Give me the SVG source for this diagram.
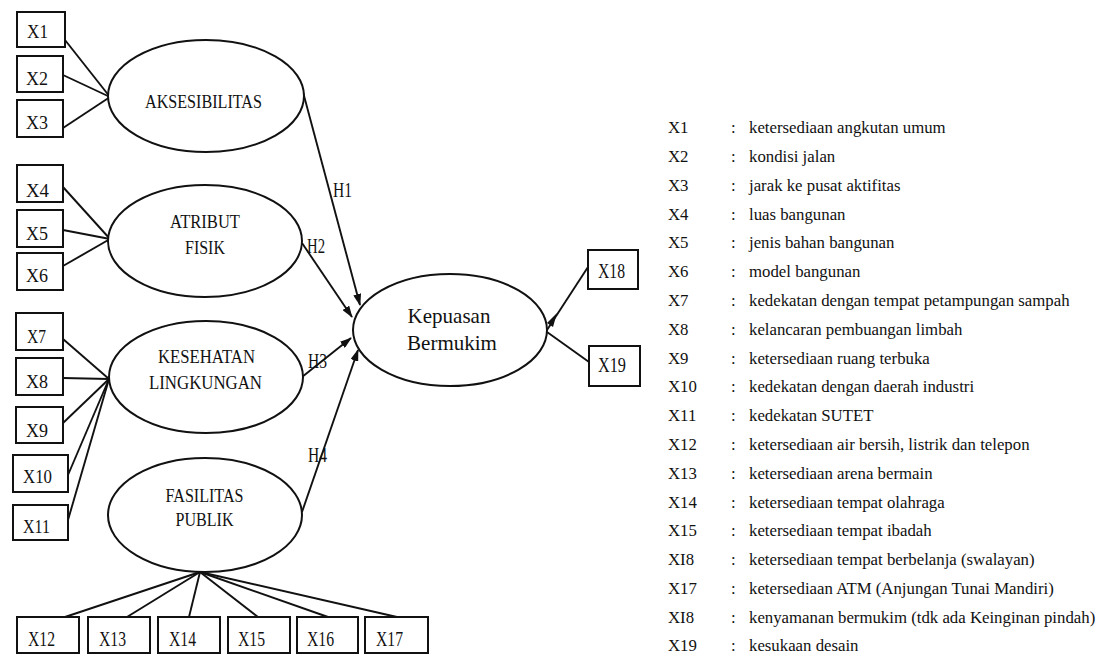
<svg xmlns="http://www.w3.org/2000/svg" width="1101" height="655" viewBox="0 0 1101 655">
<defs>
<style>
.bg{fill:#ffffff}
.box{fill:#ffffff;stroke:#111;stroke-width:2}
.ell{fill:#ffffff;stroke:#111;stroke-width:2}
.ln{stroke:#111;stroke-width:1.9;fill:none}
.t{font-family:'Liberation Serif','DejaVu Serif',serif;fill:#111}
.bx{font-size:19px}
.bb{font-size:22px}
.el{font-size:19.5px;text-anchor:middle}
.h{font-size:21px}
.kp{font-size:21px;text-anchor:middle}
.lg{font-family:'Liberation Serif','DejaVu Serif',serif;font-size:16.8px;fill:#111}
</style>
<marker id="arr" markerWidth="12" markerHeight="8" refX="11" refY="4" orient="auto" markerUnits="userSpaceOnUse">
<path d="M0,0 L12,4 L0,8 Z" fill="#111"/>
</marker>
</defs>
<rect class="bg" x="0" y="0" width="1101" height="655"/>

<g id="connectors">
<line class="ln" x1="65" y1="40" x2="110" y2="97"/>
<line class="ln" x1="63" y1="75" x2="110" y2="97"/>
<line class="ln" x1="63" y1="128" x2="110" y2="97"/>
<line class="ln" x1="63" y1="187" x2="110" y2="239"/>
<line class="ln" x1="63" y1="230" x2="110" y2="239"/>
<line class="ln" x1="63" y1="266" x2="110" y2="239"/>
<line class="ln" x1="63" y1="339" x2="109" y2="379"/>
<line class="ln" x1="63" y1="378" x2="109" y2="379"/>
<line class="ln" x1="63" y1="423" x2="109" y2="379"/>
<line class="ln" x1="68" y1="475" x2="109" y2="379"/>
<line class="ln" x1="68" y1="520" x2="109" y2="379"/>
<line class="ln" x1="65" y1="617" x2="200" y2="572"/>
<line class="ln" x1="127" y1="617" x2="200" y2="572"/>
<line class="ln" x1="189" y1="617" x2="200" y2="572"/>
<line class="ln" x1="258" y1="617" x2="200" y2="572"/>
<line class="ln" x1="328" y1="617" x2="200" y2="572"/>
<line class="ln" x1="397" y1="617" x2="200" y2="572"/>
<line class="ln" x1="303" y1="92" x2="360" y2="305" marker-end="url(#arr)"/>
<line class="ln" x1="302" y1="243" x2="352" y2="317" marker-end="url(#arr)"/>
<line class="ln" x1="302" y1="377" x2="351" y2="338" marker-end="url(#arr)"/>
<line class="ln" x1="302" y1="512" x2="358" y2="350" marker-end="url(#arr)"/>
<line class="ln" x1="588" y1="267" x2="547" y2="330"/>
<path d="M557,313 L553,327 L547,323 Z" fill="#111"/>
<line class="ln" x1="589" y1="362" x2="547" y2="332"/>
<text class="t h" x="333" y="197" textLength="19" lengthAdjust="spacingAndGlyphs">H1</text>
<text class="t h" x="307" y="253" textLength="18" lengthAdjust="spacingAndGlyphs">H2</text>
<text class="t h" x="308" y="368" textLength="19" lengthAdjust="spacingAndGlyphs">H3</text>
<text class="t h" x="308" y="462" textLength="19" lengthAdjust="spacingAndGlyphs">H4</text>
</g>

<g id="node-aksesibilitas">
<ellipse class="ell" cx="206" cy="96" rx="98" ry="56"/>
<text class="t el" x="203.5" y="108" textLength="117" lengthAdjust="spacingAndGlyphs">AKSESIBILITAS</text>
</g>
<g id="node-atribut">
<ellipse class="ell" cx="205" cy="241" rx="97" ry="56"/>
<text class="t el" x="205" y="228" textLength="70" lengthAdjust="spacingAndGlyphs">ATRIBUT</text>
<text class="t el" x="205" y="254" textLength="40" lengthAdjust="spacingAndGlyphs">FISIK</text>
</g>
<g id="node-kesehatan">
<ellipse class="ell" cx="206" cy="377" rx="97" ry="56"/>
<text class="t el" x="206.5" y="363" textLength="97" lengthAdjust="spacingAndGlyphs">KESEHATAN</text>
<text class="t el" x="205.5" y="389" textLength="113" lengthAdjust="spacingAndGlyphs">LINGKUNGAN</text>
</g>
<g id="node-fasilitas">
<ellipse class="ell" cx="205" cy="515" rx="97" ry="57"/>
<text class="t el" x="204.5" y="502" textLength="78" lengthAdjust="spacingAndGlyphs">FASILITAS</text>
<text class="t el" x="204.5" y="526" textLength="58" lengthAdjust="spacingAndGlyphs">PUBLIK</text>
</g>
<g id="node-kepuasan">
<ellipse class="ell" cx="450" cy="330" rx="97" ry="56"/>
<text class="t kp" x="449" y="323">Kepuasan</text>
<text class="t kp" x="452" y="350">Bermukim</text>
</g>

<g id="node-x1"><rect class="box" x="17" y="12" width="48" height="35"/><text class="t bx" x="27" y="38" textLength="21" lengthAdjust="spacingAndGlyphs">X1</text></g>
<g id="node-x2"><rect class="box" x="17" y="56" width="46" height="36"/><text class="t bx" x="26" y="85" textLength="22" lengthAdjust="spacingAndGlyphs">X2</text></g>
<g id="node-x3"><rect class="box" x="17" y="100" width="46" height="37"/><text class="t bx" x="26" y="129" textLength="22" lengthAdjust="spacingAndGlyphs">X3</text></g>
<g id="node-x4"><rect class="box" x="17" y="165" width="46" height="37"/><text class="t bx" x="26" y="197" textLength="23" lengthAdjust="spacingAndGlyphs">X4</text></g>
<g id="node-x5"><rect class="box" x="17" y="210" width="46" height="37"/><text class="t bx" x="26" y="240" textLength="22" lengthAdjust="spacingAndGlyphs">X5</text></g>
<g id="node-x6"><rect class="box" x="17" y="253" width="46" height="37"/><text class="t bx" x="26" y="282" textLength="22" lengthAdjust="spacingAndGlyphs">X6</text></g>
<g id="node-x7"><rect class="box" x="16" y="313" width="47" height="37"/><text class="t bx" x="27" y="343" textLength="19" lengthAdjust="spacingAndGlyphs">X7</text></g>
<g id="node-x8"><rect class="box" x="16" y="358" width="47" height="37"/><text class="t bx" x="26" y="388" textLength="22" lengthAdjust="spacingAndGlyphs">X8</text></g>
<g id="node-x9"><rect class="box" x="16" y="407" width="47" height="36"/><text class="t bx" x="26" y="437" textLength="22" lengthAdjust="spacingAndGlyphs">X9</text></g>
<g id="node-x10"><rect class="box" x="13" y="455" width="55" height="37"/><text class="t bx" x="23" y="483" textLength="29" lengthAdjust="spacingAndGlyphs">X10</text></g>
<g id="node-x11"><rect class="box" x="13" y="505" width="55" height="35"/><text class="t bx" x="23" y="533" textLength="27" lengthAdjust="spacingAndGlyphs">X11</text></g>

<g id="node-x12"><rect class="box" x="17" y="617" width="62" height="36"/><text class="t bb" x="28" y="646" textLength="27" lengthAdjust="spacingAndGlyphs">X12</text></g>
<g id="node-x13"><rect class="box" x="88" y="617" width="62" height="36"/><text class="t bb" x="99" y="646" textLength="27" lengthAdjust="spacingAndGlyphs">X13</text></g>
<g id="node-x14"><rect class="box" x="158" y="617" width="62" height="36"/><text class="t bb" x="169" y="646" textLength="27" lengthAdjust="spacingAndGlyphs">X14</text></g>
<g id="node-x15"><rect class="box" x="228" y="617" width="62" height="36"/><text class="t bb" x="238" y="646" textLength="27" lengthAdjust="spacingAndGlyphs">X15</text></g>
<g id="node-x16"><rect class="box" x="297" y="617" width="61" height="36"/><text class="t bb" x="307" y="646" textLength="27" lengthAdjust="spacingAndGlyphs">X16</text></g>
<g id="node-x17"><rect class="box" x="365" y="617" width="63" height="36"/><text class="t bb" x="376" y="646" textLength="27" lengthAdjust="spacingAndGlyphs">X17</text></g>

<g id="node-x18"><rect class="box" x="588" y="250" width="50" height="39"/><text class="t" font-size="20" x="598" y="278" textLength="27" lengthAdjust="spacingAndGlyphs">X18</text></g>
<g id="node-x19"><rect class="box" x="589" y="346" width="51" height="40"/><text class="t" font-size="20" x="598" y="372" textLength="28" lengthAdjust="spacingAndGlyphs">X19</text></g>

<g id="legend" class="lg">
<text x="668" y="133">X1</text><text x="731" y="133">:</text><text x="749" y="133">ketersediaan angkutan umum</text>
<text x="668" y="162">X2</text><text x="731" y="162">:</text><text x="749" y="162">kondisi jalan</text>
<text x="668" y="191">X3</text><text x="731" y="191">:</text><text x="749" y="191">jarak ke pusat aktifitas</text>
<text x="668" y="220">X4</text><text x="731" y="220">:</text><text x="749" y="220">luas bangunan</text>
<text x="668" y="248">X5</text><text x="731" y="248">:</text><text x="749" y="248">jenis bahan bangunan</text>
<text x="668" y="277">X6</text><text x="731" y="277">:</text><text x="749" y="277">model bangunan</text>
<text x="668" y="306">X7</text><text x="731" y="306">:</text><text x="749" y="306">kedekatan dengan tempat petampungan sampah</text>
<text x="668" y="335">X8</text><text x="731" y="335">:</text><text x="749" y="335">kelancaran pembuangan limbah</text>
<text x="668" y="364">X9</text><text x="731" y="364">:</text><text x="749" y="364">ketersediaan ruang terbuka</text>
<text x="668" y="392">X10</text><text x="731" y="392">:</text><text x="749" y="392">kedekatan dengan daerah industri</text>
<text x="668" y="421">X11</text><text x="731" y="421">:</text><text x="749" y="421">kedekatan SUTET</text>
<text x="668" y="450">X12</text><text x="731" y="450">:</text><text x="749" y="450">ketersediaan air bersih, listrik dan telepon</text>
<text x="668" y="479">X13</text><text x="731" y="479">:</text><text x="749" y="479">ketersediaan arena bermain</text>
<text x="668" y="508">X14</text><text x="731" y="508">:</text><text x="749" y="508">ketersediaan tempat olahraga</text>
<text x="668" y="536">X15</text><text x="731" y="536">:</text><text x="749" y="536">ketersediaan tempat ibadah</text>
<text x="668" y="565">XI8</text><text x="731" y="565">:</text><text x="749" y="565">ketersediaan tempat berbelanja (swalayan)</text>
<text x="668" y="594">X17</text><text x="731" y="594">:</text><text x="749" y="594">ketersediaan ATM (Anjungan Tunai Mandiri)</text>
<text x="668" y="623">XI8</text><text x="731" y="623">:</text><text x="749" y="623">kenyamanan bermukim (tdk ada Keinginan pindah)</text>
<text x="668" y="651">X19</text><text x="731" y="651">:</text><text x="749" y="651">kesukaan desain</text>
</g>
</svg>
